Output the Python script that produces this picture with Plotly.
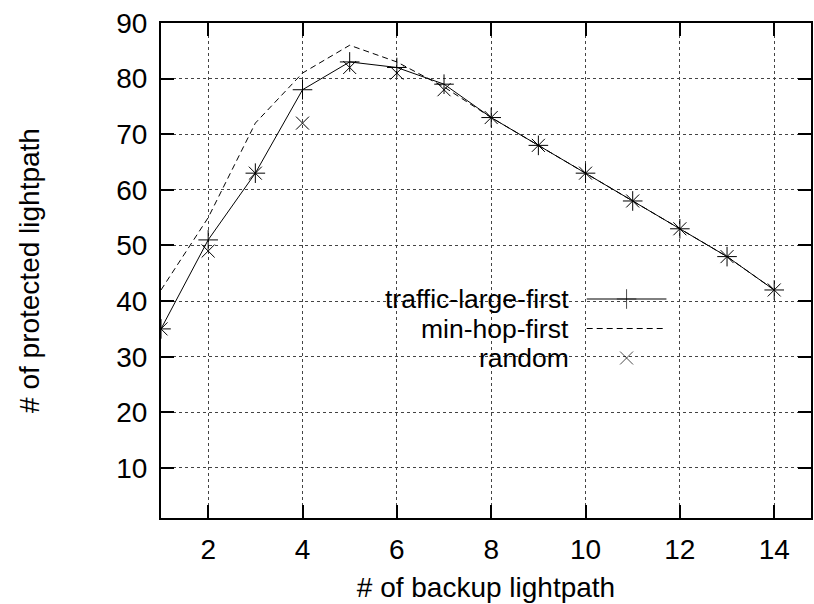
import plotly.graph_objects as go

x_vals = [1, 2, 3, 4, 5, 6, 7, 8, 9, 10, 11, 12, 13, 14]
traffic_large_first = [35, 51, 63, 78, 83, 82, 79, 73, 68, 63, 58, 53, 48, 42]
min_hop_first = [42, 55, 72, 81, 86, 83, 78.5, 73, 68, 63, 58, 53, 48, 42]
random_vals = [35, 49, 63, 72, 82, 81, 78, 73, 68, 63, 58, 53, 48, 42]
series_names = ["traffic-large-first", "min-hop-first", "random"]
x_ticks = [2, 4, 6, 8, 10, 12, 14]
y_ticks = [10, 20, 30, 40, 50, 60, 70, 80, 90]

FONT = "Liberation Sans, Arial, sans-serif"
FS = 28
LFS = 26.5

fig = go.Figure()
fig.add_trace(go.Scatter(x=x_vals, y=traffic_large_first, mode="lines+markers",
                         line=dict(color="black", width=1),
                         marker=dict(symbol="cross-thin-open", size=14, color="black",
                                     line=dict(color="black", width=1)),
                         showlegend=False))
fig.add_trace(go.Scatter(x=x_vals, y=min_hop_first, mode="lines",
                         line=dict(color="black", width=1, dash="6px,4px"),
                         showlegend=False))
fig.add_trace(go.Scatter(x=x_vals, y=random_vals, mode="markers",
                         marker=dict(symbol="x-thin-open", size=13, color="black",
                                     line=dict(color="black", width=1)),
                         showlegend=False))

# legend (key on the right of the text, gnuplot style)
L, R, T, B = 161, 813, 23, 518
def px(xp):
    return (xp - L) / (R - L)
def py(yp):
    return (B - yp) / (B - T)

rows = [299, 328.5, 358]
kx0, kx1, kxm = px(588), px(668), px(628)

shapes = [
    dict(type="rect", xref="paper", yref="paper", x0=px(243), x1=px(683),
         y0=py(401), y1=py(289), fillcolor="white", line=dict(width=0),
         layer="between"),
    dict(type="line", xref="paper", yref="paper", x0=kx0, x1=kx1,
         y0=py(rows[0]), y1=py(rows[0]), line=dict(color="black", width=1)),
    dict(type="line", xref="paper", yref="paper", x0=kx0, x1=kx1,
         y0=py(rows[1]), y1=py(rows[1]),
         line=dict(color="black", width=1, dash="6px,4px")),
]
fig.add_trace(go.Scatter(x=[kxm, kxm], y=[py(rows[0]), py(rows[2])],
                         xaxis="x2", yaxis="y2", mode="markers",
                         marker=dict(symbol=["cross-thin-open", "x-thin-open"],
                                     size=[14, 13], color="black",
                                     line=dict(color="black", width=1)),
                         showlegend=False, hoverinfo="skip"))

annotations = []
for name, r in zip(series_names, rows):
    annotations.append(dict(xref="paper", yref="paper", x=px(571), y=py(r),
                            text=name, showarrow=False, xanchor="right",
                            yanchor="middle", borderpad=0,
                            font=dict(family=FONT, size=LFS, color="black")))

fig.update_layout(
    width=814, height=604,
    margin=dict(l=L, r=814 - R, t=T, b=604 - B),
    paper_bgcolor="white", plot_bgcolor="white",
    font=dict(family=FONT, size=FS, color="black"),
    shapes=shapes, annotations=annotations,
    xaxis=dict(range=[1, 14.78], tickvals=x_ticks, ticktext=[str(v) for v in x_ticks],
               showline=True, linecolor="black", linewidth=2, mirror="allticks",
               ticks="inside", ticklen=13, tickwidth=2, tickcolor="black",
               showgrid=True, gridcolor="#444", griddash="dot", gridwidth=1,
               zeroline=False, ticklabelstandoff=5,
               title=dict(text="# of backup lightpath", standoff=14,
                          font=dict(family=FONT, size=FS))),
    yaxis=dict(range=[1, 90], tickvals=y_ticks, ticktext=[str(v) for v in y_ticks],
               showline=True, linecolor="black", linewidth=2, mirror="allticks",
               ticks="inside", ticklen=13, tickwidth=2, tickcolor="black",
               showgrid=True, gridcolor="#444", griddash="dot", gridwidth=1,
               zeroline=False, ticklabelstandoff=6,
               title=dict(text="# of protected lightpath", standoff=68,
                          font=dict(family=FONT, size=FS))),
    xaxis2=dict(overlaying="x", range=[0, 1], visible=False, fixedrange=True),
    yaxis2=dict(overlaying="y", range=[0, 1], visible=False, fixedrange=True),
)

fig.write_html("out.html")
